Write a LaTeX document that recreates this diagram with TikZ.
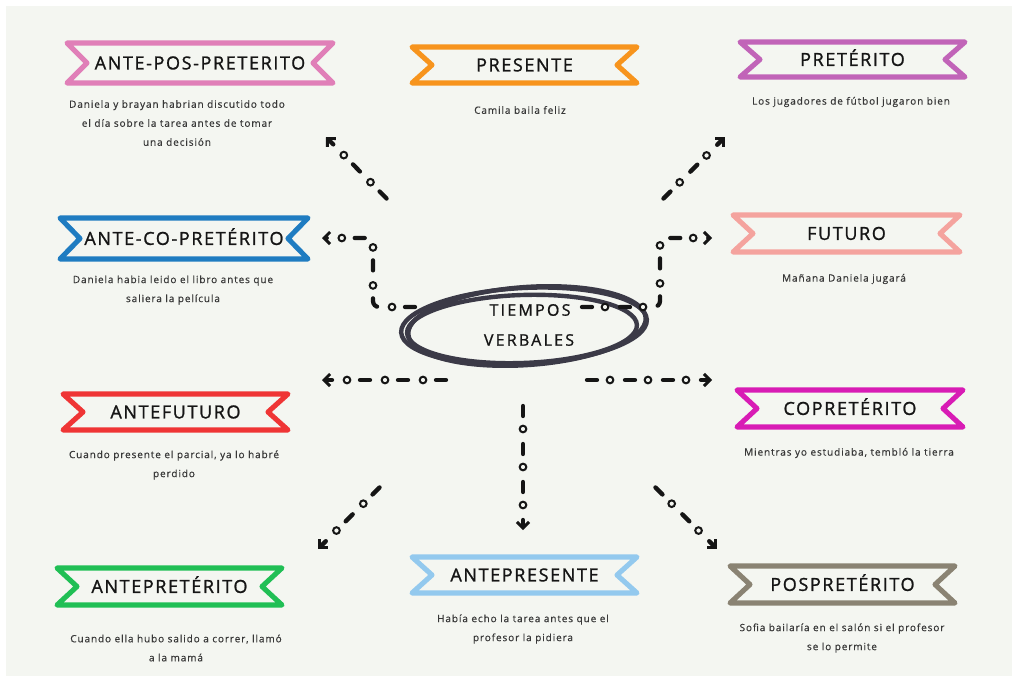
\documentclass[tikz,border=0pt]{standalone}
\usepackage{fontspec}
\setmainfont{Open Sans}
\newfontfamily\titlefont[LetterSpace=9,FakeBold=1.2]{Open Sans}
\newfontfamily\descfont[LetterSpace=9,FakeBold=0.5]{Open Sans}
\newfontfamily\centfont[LetterSpace=14,FakeBold=1]{Open Sans}
\usetikzlibrary{arrows.meta,decorations.markings}
\definecolor{bgc}{HTML}{F4F6F1}
\definecolor{cpink}{HTML}{E07FB8}
\definecolor{corange}{HTML}{F7941D}
\definecolor{cpurple}{HTML}{C164B8}
\definecolor{cblue}{HTML}{1F7CC1}
\definecolor{csalmon}{HTML}{F4A39E}
\definecolor{cred}{HTML}{EF3535}
\definecolor{cmagenta}{HTML}{D81CB5}
\definecolor{cgreen}{HTML}{20BF55}
\definecolor{clblue}{HTML}{93C9EE}
\definecolor{ctaupe}{HTML}{8A8373}
\definecolor{cent}{HTML}{3B3A47}
\definecolor{ink}{HTML}{151515}
\tikzset{
  ribbonline/.style={line width=3.8pt, line join=round, line cap=round},
  title/.style={font=\titlefont\fontsize{13.5}{16}\selectfont, text=ink, inner sep=0pt, text height=9.6pt, text depth=0pt},
  desc/.style={font=\descfont\fontsize{7.5}{14.25}\selectfont, align=center, text=ink!85, inner sep=0pt},
  centtext/.style={font=\centfont\fontsize{12}{14}\selectfont, text=ink, inner sep=0pt, text height=8.6pt, text depth=0pt},
  scrib/.style={line width=3.3pt, draw=cent},
  flow/.style={line width=3.2pt, line cap=round, draw=ink, dash pattern=on 7.5pt off 21pt, dash phase=27pt,
    -{Straight Barb[length=4.5pt,width=9pt,line width=2.2pt]},
    postaction={decorate},
    decoration={markings, mark=between positions 18.75pt and 1 step 28.5pt with {\draw[-,solid,line width=1.5pt,draw=ink,fill=bgc] (0,0) circle (2.5pt);}}},
}
\newcommand{\mkribbon}[7]{%
  \draw[ribbonline, draw=#6] (#2,#3) -- (#4,#3) -- (#4-20,{(#3+#5)/2}) -- (#4,#5) -- (#2,#5) -- (#2+20,{(#3+#5)/2}) -- cycle;
  \node[title] (#1) at ({(#2+#4)/2},{(#3+#5)/2}) {#7};
}
\begin{document}
\begin{tikzpicture}[x=0.75pt,y=-0.75pt]
\useasboundingbox (0,0) rectangle (1018,682);
\fill[white] (0,0) rectangle (1018,682);
\fill[bgc] (6,6) rectangle (1012,676);

% ribbons and texts
\mkribbon{t1}{67}{43}{333}{83}{cpink}{ANTE-POS-PRETERITO}
\node[desc] (d1) at (177,123) {Daniela y brayan habrian discutido todo\\el día sobre la tarea antes de tomar\\una decisión};

\mkribbon{t2}{412}{47}{637}{83}{corange}{PRESENTE}
\node[desc] (d2) at (520,110) {Camila baila feliz};

\mkribbon{t3}{740}{42}{965}{77}{cpurple}{PRETÉRITO}
\node[desc] (d3) at (851,102) {Los jugadores de fútbol jugaron bien};

\mkribbon{t4}{60}{218}{308}{259}{cblue}{ANTE-CO-PRETÉRITO}
\node[desc] (d4) at (173,290) {Daniela habia leido el libro antes que\\saliera la película};

\mkribbon{t5}{733}{215}{960}{252}{csalmon}{FUTURO}
\node[desc] (d5) at (844,279) {Mañana Daniela jugará};

\mkribbon{t6}{63}{394}{288}{430}{cred}{ANTEFUTURO}
\node[desc] (d6) at (174,465) {Cuando presente el parcial, ya lo habré\\perdido};

\mkribbon{t7}{737}{390}{963}{427}{cmagenta}{COPRETÉRITO}
\node[desc] (d7) at (849,453) {Mientras yo estudiaba, tembló la tierra};

\mkribbon{t8}{57}{568}{282}{605}{cgreen}{ANTEPRETÉRITO}
\node[desc] (d8) at (176,648) {Cuando ella hubo salido a correr, llamó\\a la mamá};

\mkribbon{t9}{412}{557}{637}{593}{clblue}{ANTEPRESENTE}
\node[desc] (d9) at (523,629) {Había echo la tarea antes que el\\profesor la pidiera};

\mkribbon{t10}{730}{566}{955}{603}{ctaupe}{POSPRETÉRITO}
\node[desc] (d10) at (842,638) {Sofia bailaría en el salón si el profesor\\se lo permite};

% central scribble
\draw[scrib] (524,326) ellipse [x radius=123, y radius=38, rotate=3];
\draw[scrib] (522,329) ellipse [x radius=115, y radius=34, rotate=2];
\draw[scrib] (527,326) ellipse [x radius=119, y radius=39, rotate=4];
\node[centtext] (c1) at (530,310) {TIEMPOS};
\node[centtext] (c2) at (529,340) {VERBALES};

% connectors
\coordinate (a1s) at (388,200); \coordinate (a1e) at (326,137);
\coordinate (a2s) at (662,200); \coordinate (a2e) at (725,137);
\coordinate (a3s) at (417,307); \coordinate (a3b) at (373,307); \coordinate (a3c) at (373,238); \coordinate (a3e) at (322,238);
\coordinate (a4s) at (580,307); \coordinate (a4b) at (660,307); \coordinate (a4c) at (660,238); \coordinate (a4e) at (712,238);
\coordinate (a5s) at (448,380); \coordinate (a5e) at (322,380);
\coordinate (a6s) at (585,380); \coordinate (a6e) at (712,380);
\coordinate (a7s) at (523,404); \coordinate (a7e) at (523,530);
\coordinate (a8s) at (381,486); \coordinate (a8e) at (318,549);
\coordinate (a9s) at (654,486); \coordinate (a9e) at (717,549);

\draw[flow] (a1s) -- (a1e);
\draw[flow] (a2s) -- (a2e);
\draw[flow, rounded corners=4.5pt] (a3s) -- (a3b) -- (a3c) -- (a3e);
\draw[flow, rounded corners=4.5pt] (a4s) -- (a4b) -- (a4c) -- (a4e);
\draw[flow] (a5s) -- (a5e);
\draw[flow] (a6s) -- (a6e);
\draw[flow] (a7s) -- (a7e);
\draw[flow] (a8s) -- (a8e);
\draw[flow] (a9s) -- (a9e);
\end{tikzpicture}
\end{document}
